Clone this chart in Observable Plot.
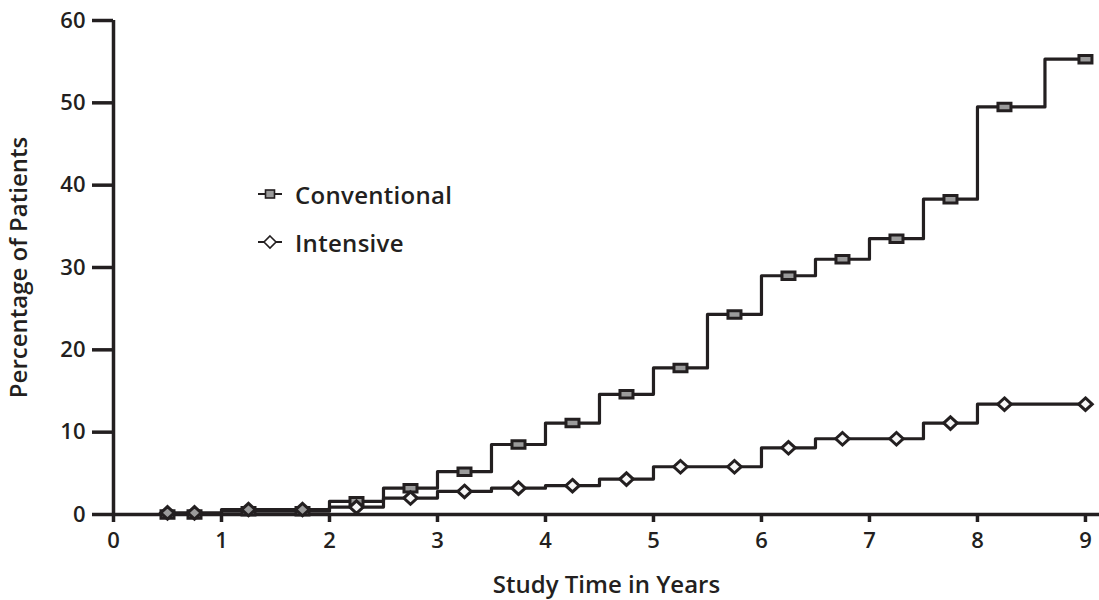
<!DOCTYPE html>
<html>
<head>
<meta charset="utf-8">
<script src="https://cdn.jsdelivr.net/npm/d3@7"></script>
<script src="https://cdn.jsdelivr.net/npm/@observablehq/plot@0.6"></script>
<style>
  html, body { margin: 0; padding: 0; background: #fff; }
  #wrap { position: relative; width: 1099px; height: 600px; font-family: "Open Sans", sans-serif; color: #231f20; }
  #legend { position: absolute; left: 256px; top: 177px; font-size: 24px; font-weight: 600; letter-spacing: 0.3px; }
  #legend .row { display: flex; align-items: center; height: 34px; margin-bottom: 14px; }
  #legend svg { margin-right: 11px; }
</style>
</head>
<body>
<div id="wrap"></div>
<script>
// Study time (years) at each plotted marker
const times = [0.5, 0.75, 1.25, 1.75, 2.25, 2.75, 3.25, 3.75, 4.25, 4.75, 5.25, 5.75, 6.25, 6.75, 7.25, 7.75, 8.25, 9];
// Percentage of patients
const conventional = [0, 0, 0.4, 0.4, 1.6, 3.2, 5.2, 8.5, 11.1, 14.6, 17.8, 24.3, 29.0, 31.0, 33.5, 38.3, 49.5, 55.3];
const intensive    = [0.2, 0.2, 0.6, 0.6, 0.9, 2.0, 2.8, 3.2, 3.5, 4.3, 5.8, 5.8, 8.1, 9.2, 9.2, 11.1, 13.4, 13.4];
const seriesNames = ["Conventional", "Intensive"];
const xTicks = [0, 1, 2, 3, 4, 5, 6, 7, 8, 9];
const yTicks = [0, 10, 20, 30, 40, 50, 60];
const xLabel = "Study Time in Years";
const yLabel = "Percentage of Patients";

const INK = "#231f20";
const GRAY = "#9b9b9b";
const WHITE = "#f6f6f6";

const convRows = times.map((t, i) => ({t, v: conventional[i], other: intensive[i]}));
const intRows = times.map((t, i) => ({t, v: intensive[i], other: conventional[i]}));

const rectSymbol = {
  draw(ctx, size) {
    const r = Math.sqrt(size / Math.PI);
    const w = 1.3 * r, h = 0.75 * r;
    ctx.moveTo(-w, -h); ctx.lineTo(w, -h); ctx.lineTo(w, h); ctx.lineTo(-w, h); ctx.closePath();
  }
};
const diamondSymbol = {
  draw(ctx, size) {
    const r = Math.sqrt(size / Math.PI);
    const w = 1.35 * r, h = 1.25 * r;
    ctx.moveTo(0, -h); ctx.lineTo(w, 0); ctx.lineTo(0, h); ctx.lineTo(-w, 0); ctx.closePath();
  }
};

const chart = Plot.plot({
  width: 1099,
  height: 600,
  marginLeft: 113,
  marginRight: 0,
  marginTop: 20,
  marginBottom: 86,
  style: {fontFamily: "'Open Sans', sans-serif", fontSize: "20px", fontWeight: 600, color: INK, background: "#fff", overflow: "visible"},
  x: {domain: [0, 9.13]},
  y: {domain: [0, 60]},
  marks: [
    Plot.axisX({ticks: xTicks, tickSize: 8, tickPadding: 10, strokeWidth: 3.5, stroke: INK, fill: INK,
      fontSize: 22, label: null, anchor: "bottom"}),
    Plot.axisX({ticks: [], tickSize: 0, fill: INK, fontSize: 24, anchor: "bottom",
      label: xLabel, labelAnchor: "center", labelArrow: "none", labelOffset: 78}),
    Plot.axisY({ticks: yTicks, tickSize: 21, tickPadding: 7, strokeWidth: 3.5, stroke: INK, fill: INK,
      fontSize: 22, label: null, anchor: "left"}),
    Plot.axisY({ticks: [], tickSize: 0, fill: INK, fontSize: 24, anchor: "left",
      label: yLabel, labelAnchor: "center", labelArrow: "none", labelOffset: 104}),
    Plot.ruleX([0], {y1: 0, y2: 60, stroke: INK, strokeWidth: 3.5}),
    Plot.ruleY([0], {stroke: INK, strokeWidth: 3.5}),
    Plot.line(convRows, {x: "t", y: "v", curve: "step", stroke: INK, strokeWidth: 3.2}),
    Plot.line(intRows, {x: "t", y: "v", curve: "step", stroke: INK, strokeWidth: 3.2}),
    Plot.dot(convRows, {x: "t", y: "v", symbol: rectSymbol, r: 5, fill: GRAY, stroke: INK, strokeWidth: 3}),
    Plot.dot(intRows, {x: "t", y: "v", symbol: diamondSymbol, r: 5,
      fill: d => Math.abs(d.v - d.other) < 0.5 ? GRAY : WHITE, stroke: INK, strokeWidth: 3})
  ]
});

const wrap = document.getElementById("wrap");
wrap.appendChild(chart);

const legend = document.createElement("div");
legend.id = "legend";
const sq = `<svg width="28" height="14" viewBox="0 0 28 14"><line x1="2" x2="26" y1="7" y2="7" stroke="${INK}" stroke-width="2"/><rect x="9.5" y="3" width="9" height="8" fill="${GRAY}" stroke="${INK}" stroke-width="1.6"/></svg>`;
const dm = `<svg width="28" height="16" viewBox="0 0 28 16"><line x1="2" x2="26" y1="8" y2="8" stroke="${INK}" stroke-width="2"/><path d="M14 2 L20 8 L14 14 L8 8 Z" fill="#fff" stroke="${INK}" stroke-width="1.6"/></svg>`;
legend.innerHTML = `<div class="row">${sq}<span>${seriesNames[0]}</span></div><div class="row">${dm}<span>${seriesNames[1]}</span></div>`;
wrap.appendChild(legend);
</script>
</body>
</html>
